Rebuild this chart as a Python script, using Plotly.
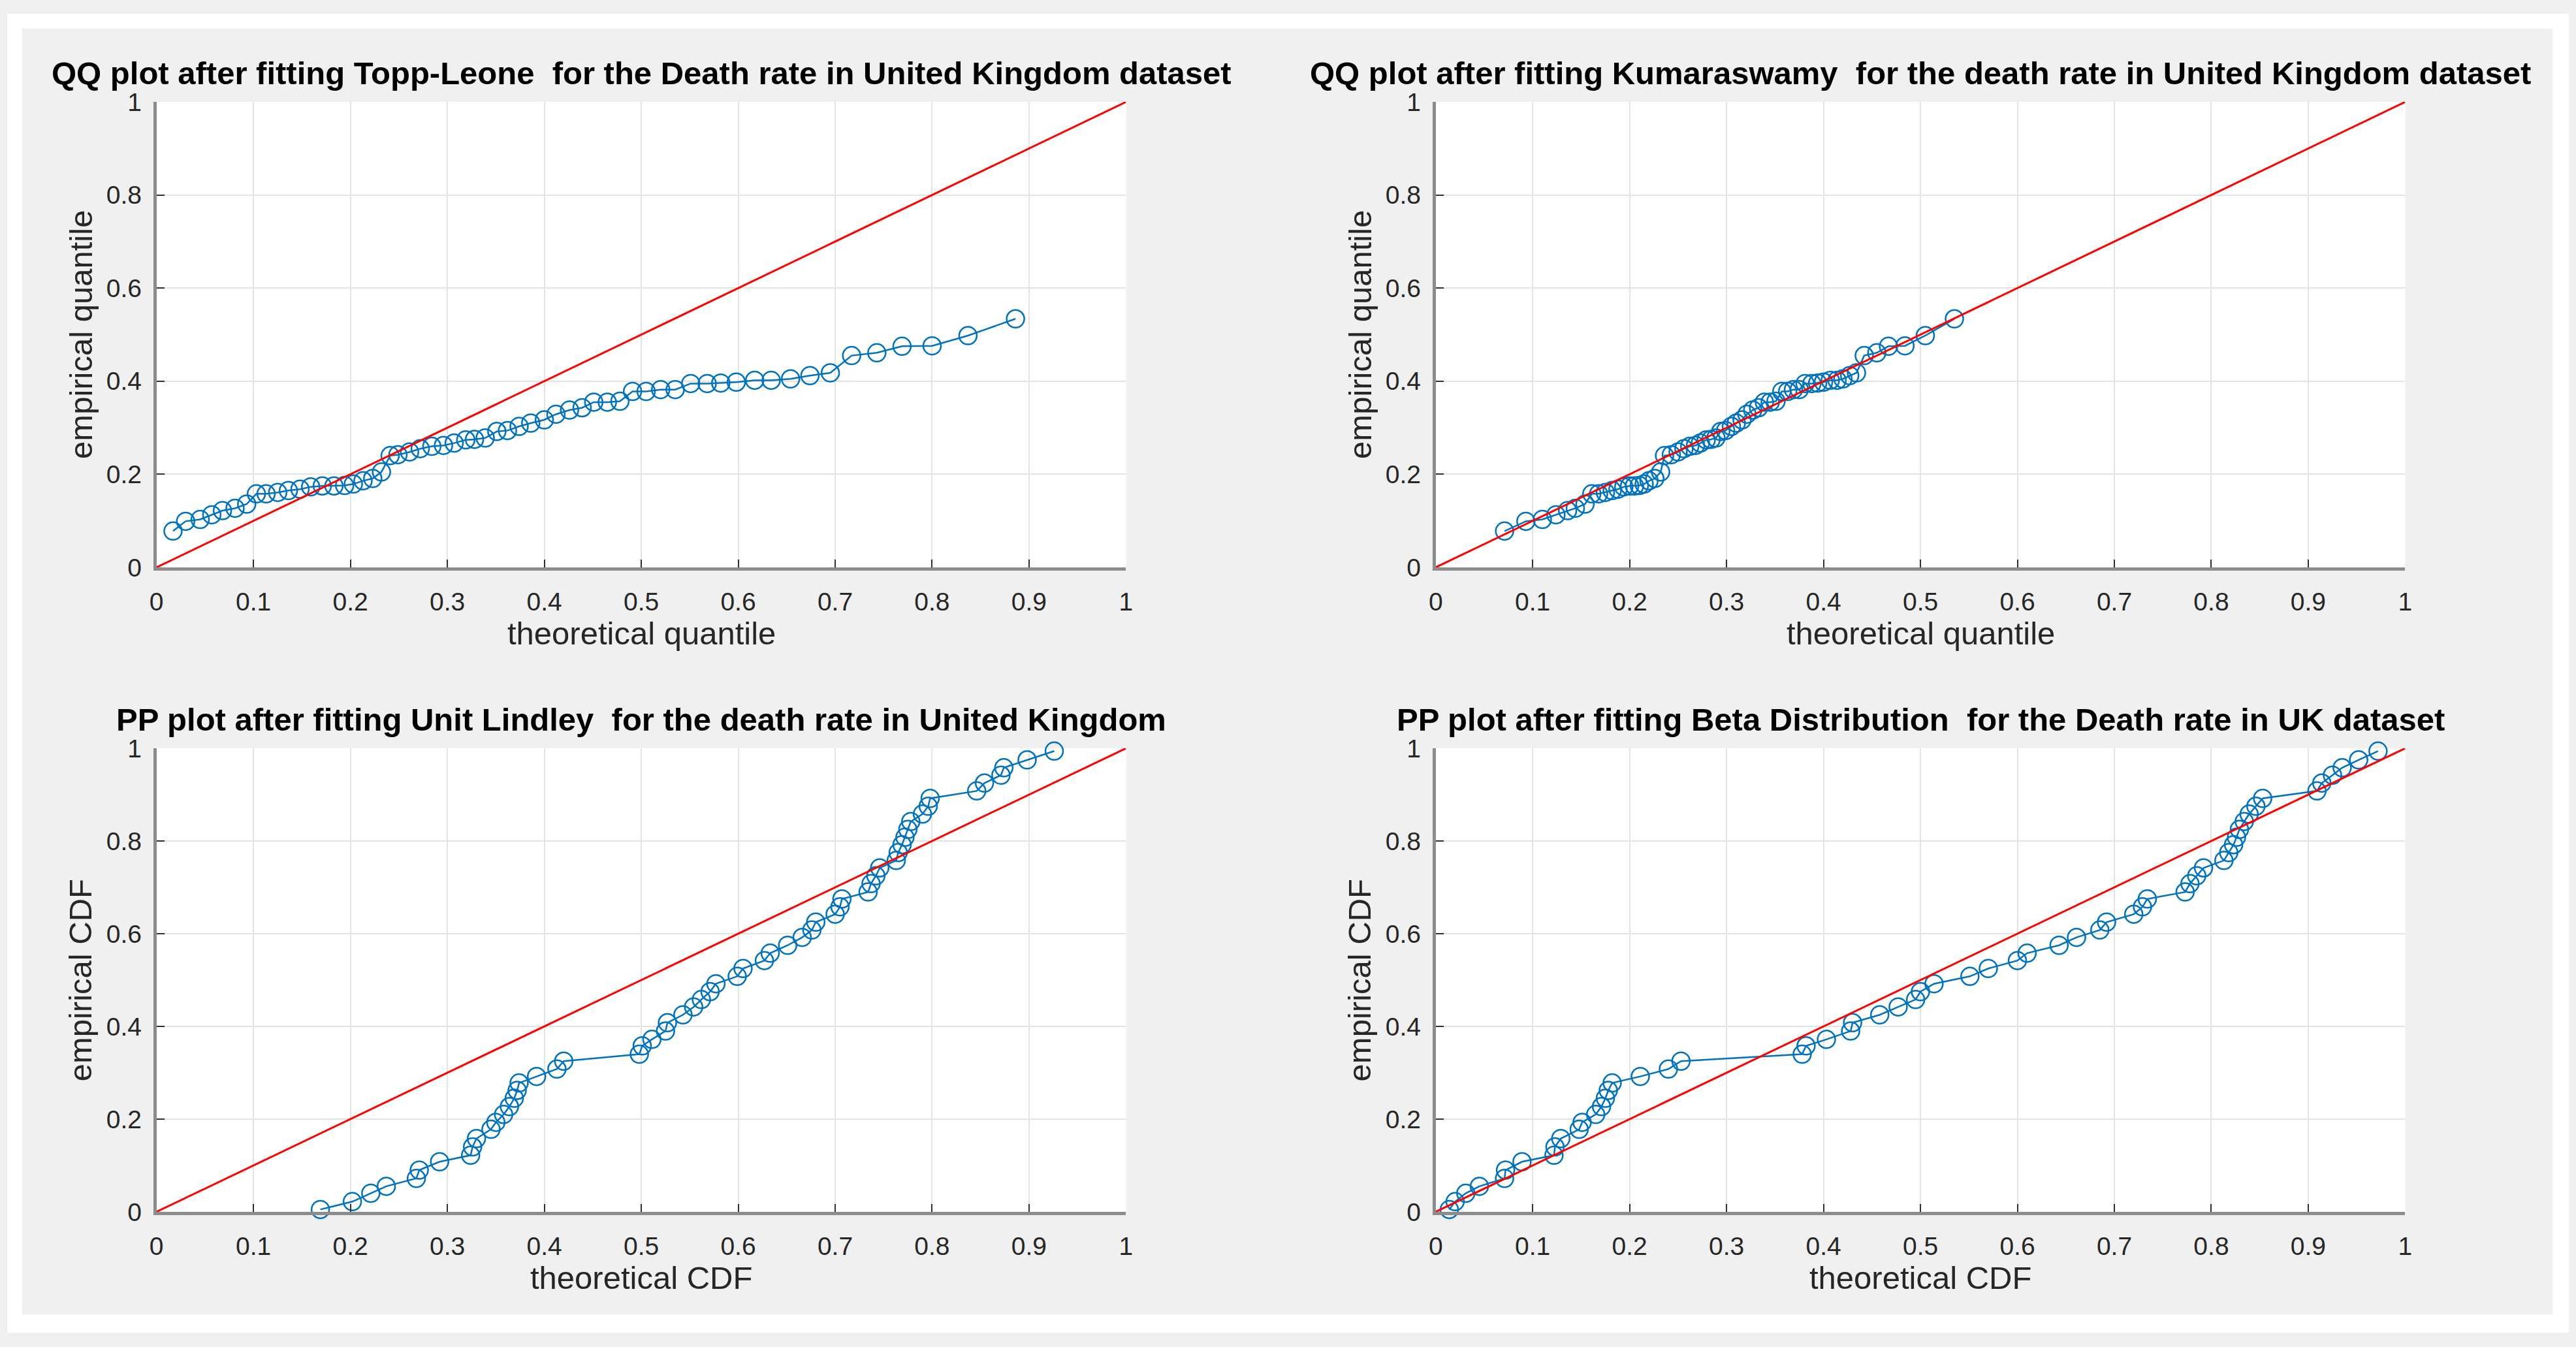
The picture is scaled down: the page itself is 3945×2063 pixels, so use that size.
import plotly.graph_objects as go

# ---------------- data ----------------
# empirical quantiles (sorted data) for the QQ plots
emp_quantile = [0.078, 0.099, 0.103, 0.113, 0.122, 0.127, 0.136, 0.158, 0.158, 0.161,
                0.165, 0.168, 0.173, 0.175, 0.175, 0.176, 0.179, 0.186, 0.191, 0.205,
                0.240, 0.242, 0.248, 0.255, 0.260, 0.262, 0.267, 0.274, 0.275, 0.278,
                0.292, 0.294, 0.303, 0.310, 0.317, 0.329, 0.338, 0.343, 0.355, 0.355,
                0.357, 0.378, 0.378, 0.382, 0.382, 0.395, 0.395, 0.396, 0.398, 0.402,
                0.402, 0.405, 0.412, 0.418, 0.455, 0.461, 0.475, 0.476, 0.498, 0.534]
# theoretical quantiles, Topp-Leone fit
tl_quantile = [0.017, 0.030, 0.045, 0.057, 0.068, 0.081, 0.093, 0.103, 0.113, 0.125,
               0.136, 0.148, 0.159, 0.171, 0.183, 0.194, 0.203, 0.213, 0.223, 0.232,
               0.241, 0.249, 0.261, 0.272, 0.284, 0.296, 0.307, 0.319, 0.328, 0.339,
               0.351, 0.362, 0.374, 0.386, 0.400, 0.412, 0.426, 0.439, 0.451, 0.465,
               0.478, 0.491, 0.505, 0.520, 0.535, 0.551, 0.568, 0.582, 0.598, 0.617,
               0.634, 0.654, 0.674, 0.695, 0.717, 0.743, 0.769, 0.800, 0.837, 0.886]
# theoretical quantiles, Kumaraswamy fit
kw_quantile = [0.071, 0.093, 0.110, 0.124, 0.136, 0.144, 0.154, 0.161, 0.168, 0.175,
               0.182, 0.188, 0.194, 0.200, 0.205, 0.210, 0.215, 0.220, 0.226, 0.232,
               0.236, 0.243, 0.250, 0.256, 0.262, 0.268, 0.273, 0.279, 0.284, 0.289,
               0.294, 0.299, 0.305, 0.310, 0.316, 0.321, 0.327, 0.333, 0.339, 0.345,
               0.351, 0.357, 0.363, 0.369, 0.375, 0.381, 0.388, 0.394, 0.400, 0.407,
               0.414, 0.420, 0.427, 0.434, 0.442, 0.455, 0.467, 0.484, 0.505, 0.535]
# empirical CDF for the PP plots
emp_cdf = [0.005, 0.022, 0.040, 0.055, 0.072, 0.090, 0.108, 0.122, 0.140, 0.158,
           0.178, 0.193, 0.210, 0.227, 0.245, 0.262, 0.278, 0.292, 0.308, 0.325,
           0.340, 0.358, 0.372, 0.390, 0.408, 0.425, 0.442, 0.458, 0.475, 0.492,
           0.508, 0.525, 0.542, 0.558, 0.575, 0.592, 0.608, 0.625, 0.642, 0.658,
           0.675, 0.690, 0.708, 0.725, 0.742, 0.758, 0.775, 0.792, 0.808, 0.825,
           0.842, 0.858, 0.875, 0.892, 0.908, 0.925, 0.942, 0.958, 0.975, 0.994]
# theoretical CDF, Unit Lindley fit
ul_cdf = [0.169, 0.202, 0.221, 0.237, 0.268, 0.271, 0.292, 0.324, 0.326, 0.330,
          0.345, 0.350, 0.358, 0.364, 0.369, 0.372, 0.374, 0.392, 0.413, 0.420,
          0.498, 0.501, 0.511, 0.525, 0.527, 0.543, 0.554, 0.562, 0.571, 0.577,
          0.599, 0.605, 0.627, 0.633, 0.651, 0.666, 0.676, 0.680, 0.700, 0.705,
          0.707, 0.734, 0.737, 0.742, 0.746, 0.763, 0.765, 0.769, 0.772, 0.775,
          0.778, 0.790, 0.796, 0.798, 0.846, 0.854, 0.871, 0.874, 0.898, 0.926]
# theoretical CDF, Beta fit
beta_cdf = [0.014, 0.020, 0.031, 0.045, 0.071, 0.072, 0.089, 0.122, 0.123, 0.129,
            0.148, 0.151, 0.165, 0.171, 0.175, 0.178, 0.182, 0.211, 0.240, 0.253,
            0.378, 0.382, 0.403, 0.428, 0.430, 0.458, 0.477, 0.495, 0.500, 0.514,
            0.551, 0.570, 0.600, 0.610, 0.643, 0.661, 0.685, 0.692, 0.720, 0.729,
            0.734, 0.773, 0.778, 0.785, 0.792, 0.813, 0.818, 0.823, 0.826, 0.829,
            0.834, 0.839, 0.846, 0.853, 0.909, 0.914, 0.925, 0.935, 0.952, 0.972]
# reference diagonal
ref_line = [0, 1]

x_tickvals = [0, 0.1, 0.2, 0.3, 0.4, 0.5, 0.6, 0.7, 0.8, 0.9, 1]
x_ticktext = ["0", "0.1", "0.2", "0.3", "0.4", "0.5", "0.6", "0.7", "0.8", "0.9", "1"]
y_tickvals = [0, 0.2, 0.4, 0.6, 0.8, 1]
y_ticktext = ["0", "0.2", "0.4", "0.6", "0.8", "1"]

titles = [
    "QQ plot after fitting Topp-Leone  for the Death rate in United Kingdom dataset",
    "QQ plot after fitting Kumaraswamy  for the death rate in United Kingdom dataset",
    "PP plot after fitting Unit Lindley  for the death rate in United Kingdom",
    "PP plot after fitting Beta Distribution  for the Death rate in UK dataset",
]
xlabels = ["theoretical quantile", "theoretical quantile", "theoretical CDF", "theoretical CDF"]
ylabels = ["empirical quantile", "empirical quantile", "empirical CDF", "empirical CDF"]

panels = [
    (tl_quantile, emp_quantile),
    (kw_quantile, emp_quantile),
    (ul_cdf, emp_cdf),
    (beta_cdf, emp_cdf),
]

# ---------------- layout geometry ----------------
W, H = 3945, 2063
FONT = "Liberation Sans, Arial, Helvetica, sans-serif"
BLUE = "#0072BD"

col_px = [(230, 1723), (2200, 3693)]
row_px = [(138, 866), (1149, 1874)]

fig = go.Figure()

annotations = []
for i, (xs, ys) in enumerate(panels):
    r, c = divmod(i, 2)
    ax = "" if i == 0 else str(i + 1)
    xa, ya = "x" + ax, "y" + ax
    fig.add_trace(go.Scatter(
        x=xs, y=ys, mode="lines+markers", xaxis=xa, yaxis=ya,
        line=dict(color=BLUE, width=2.5),
        marker=dict(symbol="circle-open", size=27, color=BLUE, line=dict(width=2.5, color=BLUE)),
        cliponaxis=False, showlegend=False, hoverinfo="x+y"))
    fig.add_trace(go.Scatter(
        x=ref_line, y=ref_line, mode="lines", xaxis=xa, yaxis=ya,
        line=dict(color="#ff0000", width=3), showlegend=False, hoverinfo="skip"))

    x0p, x1p = col_px[c]
    y0p, y1p = row_px[r]
    xdom = [x0p / W, x1p / W]
    ydom = [1 - y1p / H, 1 - y0p / H]
    common = dict(range=[0, 1], showgrid=True, gridcolor="#e3e3e3", gridwidth=2,
                  zeroline=False, showline=True, linecolor="#8c8c8c", linewidth=5,
                  ticks="inside", ticklen=12, tickwidth=2, tickcolor="#303030",
                  tickfont=dict(family=FONT, size=39, color="#262626"))
    fig.layout["xaxis" + ax] = dict(common, domain=xdom, anchor=ya,
                                    tickvals=x_tickvals, ticktext=x_ticktext,
                                    ticklabelstandoff=14)
    fig.layout["yaxis" + ax] = dict(common, domain=ydom, anchor=xa,
                                    tickvals=y_tickvals, ticktext=y_ticktext,
                                    ticklabelstandoff=10)

    cx = (x0p + x1p) / 2 / W
    cy = 1 - (y0p + y1p) / 2 / H
    title_y = 1 - (y0p - 45) / H
    xlab_y = 1 - (y1p + 103) / H
    ylab_x = (x0p - 117) / W
    annotations.append(dict(text="<b>" + titles[i] + "</b>", x=cx, y=title_y, xref="paper", yref="paper",
                            xanchor="center", yanchor="middle", showarrow=False,
                            font=dict(family=FONT, size=49, color="#000000")))
    annotations.append(dict(text=xlabels[i], x=cx, y=xlab_y, xref="paper", yref="paper",
                            xanchor="center", yanchor="middle", showarrow=False,
                            font=dict(family=FONT, size=49, color="#262626")))
    annotations.append(dict(text=ylabels[i], x=ylab_x, y=cy, xref="paper", yref="paper",
                            xanchor="center", yanchor="middle", showarrow=False, textangle=-90,
                            font=dict(family=FONT, size=49, color="#262626")))

# white frame around the grey figure area
shapes = [
    dict(type="rect", xref="paper", yref="paper", x0=0, x1=1, y0=1 - 23 / H, y1=1,
         fillcolor="white", line=dict(width=0), layer="below"),
    dict(type="rect", xref="paper", yref="paper", x0=0, x1=1, y0=0, y1=1 - 2035 / H,
         fillcolor="white", line=dict(width=0), layer="below"),
    dict(type="rect", xref="paper", yref="paper", x0=0, x1=23 / W, y0=0, y1=1,
         fillcolor="white", line=dict(width=0), layer="below"),
    dict(type="rect", xref="paper", yref="paper", x0=3920 / W, x1=1, y0=0, y1=1,
         fillcolor="white", line=dict(width=0), layer="below"),
]

fig.update_layout(
    width=W, height=H,
    margin=dict(l=0, r=0, t=0, b=0),
    paper_bgcolor="#f0f0f0", plot_bgcolor="#ffffff",
    annotations=annotations, shapes=shapes,
    showlegend=False,
)

fig.write_html("out.html", config={"displayModeBar": False},
               post_script="document.body.style.margin='0px';")
